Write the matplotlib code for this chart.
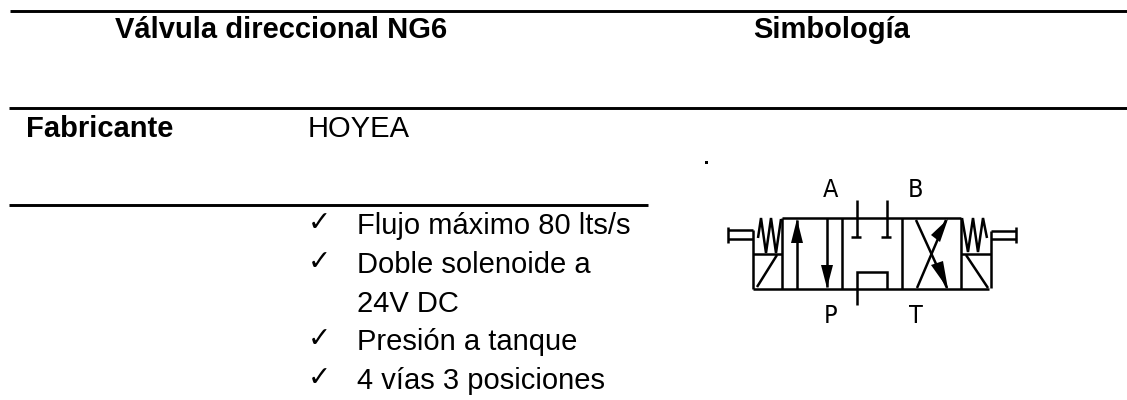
import matplotlib
matplotlib.use("Agg")
import matplotlib.pyplot as plt
from matplotlib.patches import Polygon

W, H = 1127, 400
SANS = ["Liberation Sans", "DejaVu Sans"]

# Table text
title = "Válvula direccional NG6"
symbol_title = "Simbología"
maker_label = "Fabricante"
maker = "HOYEA"
bullets = [("Flujo máximo 80 lts/s", True, 234), ("Doble solenoide a", True, 273),
           ("24V DC", False, 312), ("Presión a tanque", True, 350),
           ("4 vías 3 posiciones", True, 389)]
rules = [(10, 1127, 11), (9, 1127, 108), (9, 648, 205)]
ports = [("A", 831, 197), ("B", 916, 197), ("P", 831, 323), ("T", 916, 323)]

# Valve symbol, in image pixels
polylines = [
    [(782, 218), (961, 218)],
    [(753, 289), (989, 289)],
    [(753, 230), (753, 289)], [(782, 218), (782, 289)], [(842, 218), (842, 289)],
    [(902, 218), (902, 289)], [(961, 218), (961, 289)], [(991, 231), (991, 288)],
    [(753, 254), (782, 254)], [(961, 254), (991, 254)],
    [(757, 287), (777, 255)], [(966, 255), (988, 288)],
    [(728, 227), (728, 243)], [(728, 230), (753, 230)], [(728, 239), (753, 239)],
    [(1016, 227), (1016, 243)], [(991, 231), (1016, 231)], [(991, 239), (1016, 239)],
    [(758, 238), (761, 218), (766, 253), (771, 218), (776, 253), (781, 219)],
    [(962, 218), (968, 252), (973, 218), (978, 252), (983, 218), (987, 238)],
    [(797, 220), (797, 289)], [(827, 218), (827, 287)],
    [(857, 200), (857, 237)], [(851, 237), (861, 237)],
    [(887, 200), (887, 237)], [(881, 237), (891, 237)],
    [(857, 305), (857, 272), (887, 272), (887, 289)],
    [(916, 220), (947, 288)], [(917, 288), (946, 220)],
]
heads = [
    [(797, 219), (791, 243), (803, 243)],
    [(827, 288), (821, 265), (833, 265)],
    [(948, 219), (931, 235), (940, 242)],
    [(948, 289), (931, 265), (943, 261)],
]
dot = [(705, 161), (708, 161), (708, 164), (705, 164)]

fig = plt.figure(figsize=(W / 100, H / 100), dpi=100)
ax = fig.add_axes([0, 0, 1, 1])
ax.set_xlim(0, W)
ax.set_ylim(H, 0)
ax.axis("off")

for x0, x1, y in rules:
    ax.plot([x0, x1], [y, y], color="black", lw=2.1, solid_capstyle="butt")

SIZE = 21
ax.text(115, 38.5, title, family=SANS, weight="bold", fontsize=SIZE, va="baseline")
ax.text(753, 38.5, symbol_title, family=SANS, weight="bold", fontsize=SIZE, va="baseline")
ax.text(26, 137, maker_label, family=SANS, weight="bold", fontsize=SIZE, va="baseline")
ax.text(308, 137, maker, family=SANS, fontsize=SIZE, va="baseline")

for text, check, y in bullets:
    ax.text(357, y, text, family=SANS, fontsize=SIZE, va="baseline")
    if check:
        ax.text(308, y - 3, "\u2713", family="DejaVu Sans", fontsize=20, va="baseline")

for pts in polylines:
    ax.plot([p[0] for p in pts], [p[1] for p in pts], color="black", lw=1.8,
            solid_joinstyle="miter", solid_capstyle="butt")
for pts in heads + [dot]:
    ax.add_patch(Polygon(pts, closed=True, fc="black", ec="none"))

for label, x, y in ports:
    ax.text(x, y, label, family="DejaVu Sans", stretch="condensed", fontsize=18,
            ha="center", va="baseline")

fig.savefig("out.png", dpi=100, facecolor="white")
